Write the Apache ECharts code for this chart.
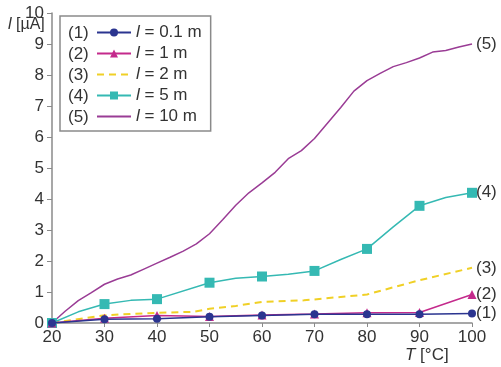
<!DOCTYPE html>
<html>
<head>
<meta charset="utf-8">
<script src="https://cdn.jsdelivr.net/npm/echarts@6/dist/echarts.min.js"></script>
<style>
  html, body { margin: 0; padding: 0; background: #fff; }
  #chart { width: 501px; height: 367px; }
</style>
</head>
<body>
<div id="chart"></div>
<script>
// Temperature axis ticks (°C)
const tempTicks = [20, 30, 40, 50, 60, 70, 80, 90, 100];

// Current I [µA] per cable length, measured at each temperature tick
const current01m = [0, 0.12, 0.14, 0.2, 0.24, 0.28, 0.28, 0.28, 0.31];
const current1m  = [0, 0.15, 0.24, 0.21, 0.26, 0.29, 0.33, 0.34, 0.92];

// 2 m: dashed trace sampled along the curve
const temp2m    = [20, 30, 40, 47, 50, 55, 60, 68, 80, 90, 100];
const current2m = [0, 0.25, 0.33, 0.36, 0.46, 0.55, 0.68, 0.73, 0.92, 1.38, 1.78];

// 5 m: markers at every 10 °C, intermediate samples shape the trace
const temp5m    = [20, 25, 30, 35, 40, 50, 55, 60, 65, 70, 75, 80, 85, 90, 95, 100];
const current5m = [0, 0.36, 0.61, 0.73, 0.77, 1.3, 1.44, 1.5, 1.57, 1.68, 2.05, 2.39, 3.1, 3.78, 4.05, 4.2];

// 10 m: continuous trace
const temp10m    = [20, 22.5, 25, 27.5, 30, 32.5, 35, 37.5, 40, 42.5, 45, 47.5, 50, 52.5, 55, 57.5,
                    60, 62.5, 65, 67.5, 70, 72.5, 75, 77.5, 80, 82.5, 85, 87.5, 90, 92.5, 95, 97.5, 100];
const current10m = [0, 0.38, 0.72, 0.98, 1.25, 1.42, 1.55, 1.74, 1.93, 2.12, 2.32, 2.55, 2.88, 3.33, 3.8, 4.2,
                    4.52, 4.86, 5.3, 5.56, 5.95, 6.45, 6.95, 7.48, 7.82, 8.05, 8.27, 8.4, 8.55, 8.74, 8.79, 8.9, 9.0];

// Legend entries
const seriesTags   = ['(1)', '(2)', '(3)', '(4)', '(5)'];
const lengthLabels = ['0.1 m', '1 m', '2 m', '5 m', '10 m'];
const yTicks = [0, 1, 2, 3, 4, 5, 6, 7, 8, 9, 10];

const colors = ['#2b3590', '#c42a8c', '#f0d026', '#35b9b3', '#9a3c95'];
const FONT = '"Liberation Sans", Arial, sans-serif';
const TXT = '#333';

function pairs(xs, ys) { return xs.map((x, i) => [x, ys[i]]); }
// keep symbols only at decade temperatures
function marked(xs, ys) {
  return xs.map((x, i) => (x % 10 === 0)
    ? { value: [x, ys[i]] }
    : { value: [x, ys[i]], symbol: 'none' });
}

const names = lengthLabels.map(l => 'l = ' + l);

function endLabel(tag) {
  return {
    show: true, formatter: tag, distance: 4,
    color: TXT, fontSize: 17, fontFamily: FONT
  };
}

// legend entries; line-only traces get no marker in the key
const legendData = names.map((n, i) => (i === 2 || i === 4)
  ? { name: n, itemStyle: { color: 'rgba(0,0,0,0)', borderWidth: 0 } }
  : { name: n });

const chart = echarts.init(document.getElementById('chart'), null, { renderer: 'canvas' });

chart.setOption({
  animation: false,
  backgroundColor: '#fff',
  textStyle: { fontFamily: FONT },
  grid: { left: 52, right: 29, top: 13, bottom: 44, containLabel: false },
  xAxis: {
    type: 'value', min: tempTicks[0], max: tempTicks[tempTicks.length - 1], interval: 10,
    axisLine: { show: true, lineStyle: { color: '#8a8a8a', width: 1.5 } },
    axisTick: { show: true, length: 4, lineStyle: { color: '#8a8a8a' } },
    axisLabel: { color: TXT, fontSize: 17, fontFamily: FONT, margin: 6 },
    splitLine: { show: false }
  },
  yAxis: {
    type: 'value', min: yTicks[0], max: yTicks[yTicks.length - 1], interval: 1,
    axisLine: { show: true, lineStyle: { color: '#8a8a8a', width: 1.5 } },
    axisTick: { show: true, length: 5, lineStyle: { color: '#8a8a8a' } },
    axisLabel: { color: TXT, fontSize: 17, fontFamily: FONT, margin: 8 },
    splitLine: { show: false }
  },
  legend: {
    orient: 'vertical', left: 60, top: 16,
    padding: [8, 9, 6, 36],
    borderColor: '#8a8a8a', borderWidth: 1.5, backgroundColor: '#fff',
    itemWidth: 34, itemHeight: 10, itemGap: 4,
    data: legendData,
    formatter: n => '{i|l} = ' + n.slice(4),
    textStyle: {
      color: TXT, fontSize: 17, fontFamily: FONT, lineHeight: 17,
      rich: { i: { fontStyle: 'italic', fontSize: 17, fontFamily: FONT, color: TXT } }
    }
  },
  graphic: [
    ...seriesTags.map((t, i) => ({
      type: 'text', left: 68, top: 25 + i * 21, z: 100, zlevel: 1,
      style: { text: t, fontSize: 17, fontFamily: FONT, fill: TXT }
    })),
    {
      type: 'text', left: 8, top: 17,
      style: {
        text: '{i|l} [µA]', fontSize: 16, fontFamily: FONT, fill: TXT,
        rich: { i: { fontStyle: 'italic', fontSize: 16, fontFamily: FONT, fill: TXT } }
      }
    },
    {
      type: 'text', left: 405, top: 347,
      style: {
        text: '{i|T} [°C]', fontSize: 17, fontFamily: FONT, fill: TXT,
        rich: { i: { fontStyle: 'italic', fontSize: 17, fontFamily: FONT, fill: TXT } }
      }
    }
  ],
  series: [
    {
      name: names[0], type: 'line', data: pairs(tempTicks, current01m),
      symbol: 'circle', symbolSize: 8, color: colors[0],
      lineStyle: { width: 1.5, color: colors[0] }, z: 5,
      endLabel: endLabel(seriesTags[0])
    },
    {
      name: names[1], type: 'line', data: pairs(tempTicks, current1m),
      symbol: 'triangle', symbolSize: 9, color: colors[1],
      lineStyle: { width: 1.5, color: colors[1] }, z: 4,
      endLabel: endLabel(seriesTags[1])
    },
    {
      name: names[2], type: 'line', data: pairs(temp2m, current2m),
      symbol: 'none', color: colors[2],
      lineStyle: { width: 2, color: colors[2], type: [7, 5] }, z: 3,
      endLabel: endLabel(seriesTags[2])
    },
    {
      name: names[3], type: 'line', data: marked(temp5m, current5m),
      symbol: 'rect', symbolSize: 10, color: colors[3],
      lineStyle: { width: 1.5, color: colors[3] }, z: 3,
      endLabel: endLabel(seriesTags[3])
    },
    {
      name: names[4], type: 'line', data: pairs(temp10m, current10m),
      symbol: 'none', color: colors[4],
      lineStyle: { width: 1.5, color: colors[4] }, z: 2,
      endLabel: endLabel(seriesTags[4])
    }
  ]
});
</script>
</body>
</html>
